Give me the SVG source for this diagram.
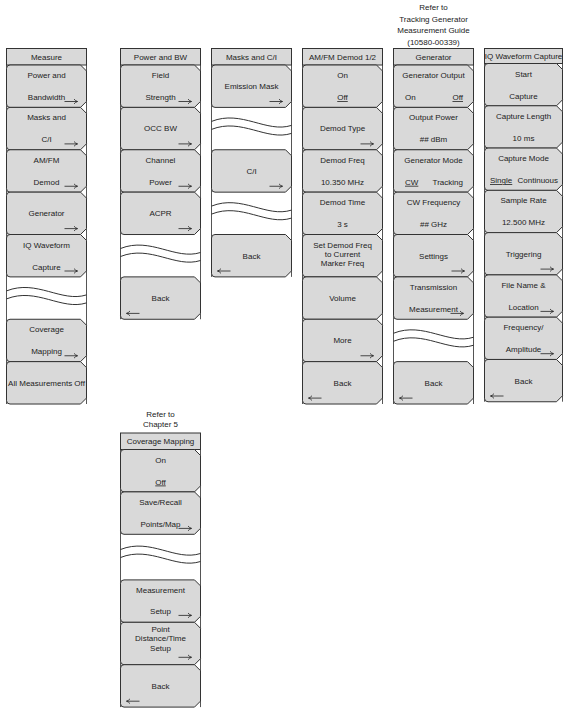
<svg xmlns="http://www.w3.org/2000/svg" xmlns:xlink="http://www.w3.org/1999/xlink" width="568" height="716" viewBox="0 0 568 716">
<style>
.bg{fill:#ffffff}
.btn{fill:#d9d9d9;stroke:#333333;stroke-width:1}
.hdr{fill:#d9d9d9;stroke:#333333;stroke-width:1}
.frm{stroke:#555555;stroke-width:1;fill:none}
.wv{stroke:#333333;stroke-width:1;fill:none}
.ar{stroke:#222222;stroke-width:0.8;fill:none}
text{font-family:"Liberation Sans",Arial,Helvetica,sans-serif;font-size:8px;fill:#222222;text-anchor:middle}
.s{text-anchor:start}
.e{text-anchor:end}
.u{text-decoration:underline}
</style>
<defs>
<path id="btn" d="M3.5,0 H74 L80,6 V36.4 L74,42.4 H3.5 Q0,42.4 0,38.9 V3.5 Q0,0 3.5,0 Z"/>
<path id="btn2" d="M3.5,0 H72 L78,6 V36.3 L72,42.3 H3.5 Q0,42.3 0,38.8 V3.5 Q0,0 3.5,0 Z"/>
<path id="wave" d="M0,0 C30,-12 55,12 80,4 M0,8 C30,-4 55,20 80,12"/>
<path id="arR" d="M0,0 H13 M9.5,-2.4 Q11,-0.6 13,0 Q11,0.6 9.5,2.4"/>
<path id="arL" d="M13,0 H0 M3.5,-2.4 Q2,-0.6 0,0 Q2,0.6 3.5,2.4"/>
</defs>
<rect class="bg" x="0" y="0" width="568" height="716"/>

<g id="notes">
<text x="433.5" y="10">Refer to</text>
<text x="433.5" y="21.5">Tracking Generator</text>
<text x="433.5" y="33">Measurement Guide</text>
<text x="433.5" y="44.5">(10580-00339)</text>
<text x="160.5" y="417">Refer to</text>
<text x="160.5" y="427">Chapter 5</text>
</g>

<g id="connectors"></g>

<!-- Measure -->
<g id="measure">
<path class="frm" d="M6.5,48.5 V404 M86.5,48.5 V404"/>
<rect class="hdr" x="6.5" y="48.5" width="80" height="16.5"/>
<text x="46.5" y="59.5">Measure</text>
<use href="#btn" class="btn" x="6.5" y="65"/>
<text x="46.5" y="78">Power and</text><text x="46.5" y="100">Bandwidth</text>
<use href="#arR" class="ar" x="64.5" y="101.5"/>
<use href="#btn" class="btn" x="6.5" y="107.375"/>
<text x="46.5" y="120.4">Masks and</text><text x="46.5" y="142.4">C/I</text>
<use href="#arR" class="ar" x="64.5" y="143.9"/>
<use href="#btn" class="btn" x="6.5" y="149.75"/>
<text x="46.5" y="162.75">AM/FM</text><text x="46.5" y="184.75">Demod</text>
<use href="#arR" class="ar" x="64.5" y="186.25"/>
<use href="#btn" class="btn" x="6.5" y="192.125"/>
<text x="46.5" y="216.1">Generator</text>
<use href="#arR" class="ar" x="64.5" y="228.6"/>
<use href="#btn" class="btn" x="6.5" y="234.5"/>
<text x="46.5" y="247.5">IQ Waveform</text><text x="46.5" y="269.5">Capture</text>
<use href="#arR" class="ar" x="64.5" y="271"/>
<use href="#wave" class="wv" x="6.5" y="290.9"/>
<use href="#btn" class="btn" x="6.5" y="319.25"/>
<text x="46.5" y="332.25">Coverage</text><text x="46.5" y="354.25">Mapping</text>
<use href="#arR" class="ar" x="64.5" y="355.75"/>
<use href="#btn" class="btn" x="6.5" y="361.625"/>
<text x="46.5" y="385.6">All Measurements Off</text>
</g>

<!-- Power and BW -->
<g id="power-bw">
<path class="frm" d="M120.5,48.5 V319.25 M200.5,48.5 V319.25"/>
<rect class="hdr" x="120.5" y="48.5" width="80" height="16.5"/>
<text x="160.5" y="59.5">Power and BW</text>
<use href="#btn" class="btn" x="120.5" y="65"/>
<text x="160.5" y="78">Field</text><text x="160.5" y="100">Strength</text>
<use href="#arR" class="ar" x="178.5" y="101.5"/>
<use href="#btn" class="btn" x="120.5" y="107.375"/>
<text x="160.5" y="131.4">OCC BW</text>
<use href="#arR" class="ar" x="178.5" y="143.9"/>
<use href="#btn" class="btn" x="120.5" y="149.75"/>
<text x="160.5" y="162.75">Channel</text><text x="160.5" y="184.75">Power</text>
<use href="#arR" class="ar" x="178.5" y="186.25"/>
<use href="#btn" class="btn" x="120.5" y="192.125"/>
<text x="160.5" y="216.1">ACPR</text>
<use href="#arR" class="ar" x="178.5" y="228.6"/>
<use href="#wave" class="wv" x="120.5" y="248.5"/>
<use href="#btn" class="btn" x="120.5" y="276.875"/>
<text x="160.5" y="300.9">Back</text>
<use href="#arL" class="ar" x="126.5" y="313.4"/>
</g>

<!-- Masks and C/I -->
<g id="masks-ci">
<path class="frm" d="M211.5,48.5 V276.875 M291.5,48.5 V276.875"/>
<rect class="hdr" x="211.5" y="48.5" width="80" height="16.5"/>
<text x="251.5" y="59.5">Masks and C/I</text>
<use href="#btn" class="btn" x="211.5" y="65"/>
<text x="251.5" y="89">Emission Mask</text>
<use href="#arR" class="ar" x="269.5" y="101.5"/>
<use href="#wave" class="wv" x="211.5" y="121.4"/>
<use href="#btn" class="btn" x="211.5" y="149.75"/>
<text x="251.5" y="173.75">C/I</text>
<use href="#arR" class="ar" x="269.5" y="186.25"/>
<use href="#wave" class="wv" x="211.5" y="206.1"/>
<use href="#btn" class="btn" x="211.5" y="234.5"/>
<text x="251.5" y="258.5">Back</text>
<use href="#arL" class="ar" x="217.5" y="271"/>
</g>

<!-- AM/FM Demod -->
<g id="amfm-demod">
<path class="frm" d="M302.5,48.5 V404 M382.5,48.5 V404"/>
<rect class="hdr" x="302.5" y="48.5" width="80" height="16.5"/>
<text x="342.5" y="59.5">AM/FM Demod 1/2</text>
<use href="#btn" class="btn" x="302.5" y="65"/>
<text x="342.5" y="78">On</text><text class="u" x="342.5" y="100">Off</text>
<use href="#btn" class="btn" x="302.5" y="107.375"/>
<text x="342.5" y="131.4">Demod Type</text>
<use href="#arR" class="ar" x="360.5" y="143.9"/>
<use href="#btn" class="btn" x="302.5" y="149.75"/>
<text x="342.5" y="162.75">Demod Freq</text><text x="342.5" y="184.75">10.350 MHz</text>
<use href="#btn" class="btn" x="302.5" y="192.125"/>
<text x="342.5" y="205.1">Demod Time</text><text x="342.5" y="227.1">3 s</text>
<use href="#btn" class="btn" x="302.5" y="234.5"/>
<text x="342.5" y="247.5">Set Demod Freq</text><text x="342.5" y="256.5">to Current</text><text x="342.5" y="265.5">Marker Freq</text>
<use href="#btn" class="btn" x="302.5" y="276.875"/>
<text x="342.5" y="300.9">Volume</text>
<use href="#btn" class="btn" x="302.5" y="319.25"/>
<text x="342.5" y="343.25">More</text>
<use href="#arR" class="ar" x="360.5" y="355.75"/>
<use href="#btn" class="btn" x="302.5" y="361.625"/>
<text x="342.5" y="385.6">Back</text>
<use href="#arL" class="ar" x="308.5" y="398.1"/>
</g>

<!-- Generator -->
<g id="generator">
<path class="frm" d="M393.5,48.5 V404 M473.5,48.5 V404"/>
<rect class="hdr" x="393.5" y="48.5" width="80" height="16.5"/>
<text x="433.5" y="59.5">Generator</text>
<use href="#btn" class="btn" x="393.5" y="65"/>
<text x="433.5" y="78">Generator Output</text>
<text class="s" x="405" y="100">On</text><text class="e u" x="463" y="100">Off</text>
<use href="#btn" class="btn" x="393.5" y="107.375"/>
<text x="433.5" y="120.4">Output Power</text><text x="433.5" y="142.4">## dBm</text>
<use href="#btn" class="btn" x="393.5" y="149.75"/>
<text x="433.5" y="162.75">Generator Mode</text>
<text class="s u" x="405" y="184.75">CW</text><text class="e" x="463" y="184.75">Tracking</text>
<use href="#btn" class="btn" x="393.5" y="192.125"/>
<text x="433.5" y="205.1">CW Frequency</text><text x="433.5" y="227.1">## GHz</text>
<use href="#btn" class="btn" x="393.5" y="234.5"/>
<text x="433.5" y="258.5">Settings</text>
<use href="#arR" class="ar" x="451.5" y="271"/>
<use href="#btn" class="btn" x="393.5" y="276.875"/>
<text x="433.5" y="289.9">Transmission</text><text x="433.5" y="311.9">Measurement</text>
<use href="#arR" class="ar" x="450.5" y="313.4"/>
<use href="#wave" class="wv" x="393.5" y="333.25"/>
<use href="#btn" class="btn" x="393.5" y="361.625"/>
<text x="433.5" y="385.6">Back</text>
<use href="#arL" class="ar" x="399.5" y="398.1"/>
</g>

<!-- IQ Waveform Capture -->
<g id="iq-waveform-capture">
<path class="frm" d="M484.5,48.5 V401.7 M562.5,48.5 V401.7"/>
<rect class="hdr" x="484.5" y="48.5" width="78" height="15"/>
<text x="523.5" y="58.8">IQ Waveform Capture</text>
<use href="#btn2" class="btn" x="484.5" y="63.5"/>
<text x="523.5" y="76.5">Start</text><text x="523.5" y="98.5">Capture</text>
<use href="#btn2" class="btn" x="484.5" y="105.78"/>
<text x="523.5" y="118.8">Capture Length</text><text x="523.5" y="140.8">10 ms</text>
<use href="#btn2" class="btn" x="484.5" y="148.06"/>
<text x="523.5" y="161.1">Capture Mode</text>
<text class="s u" x="490" y="183.1">Single</text><text class="e" x="558" y="183.1">Continuous</text>
<use href="#btn2" class="btn" x="484.5" y="190.34"/>
<text x="523.5" y="203.3">Sample Rate</text><text x="523.5" y="225.3">12.500 MHz</text>
<use href="#btn2" class="btn" x="484.5" y="232.62"/>
<text x="523.5" y="256.6">Triggering</text>
<use href="#arR" class="ar" x="540.5" y="269.1"/>
<use href="#btn2" class="btn" x="484.5" y="274.9"/>
<text x="523.5" y="287.9">File Name &amp;</text><text x="523.5" y="309.9">Location</text>
<use href="#arR" class="ar" x="540.5" y="311.4"/>
<use href="#btn2" class="btn" x="484.5" y="317.18"/>
<text x="523.5" y="330.2">Frequency/</text><text x="523.5" y="352.2">Amplitude</text>
<use href="#arR" class="ar" x="540.5" y="353.7"/>
<use href="#btn2" class="btn" x="484.5" y="359.46"/>
<text x="523.5" y="383.5">Back</text>
<use href="#arL" class="ar" x="490.5" y="396"/>
</g>

<!-- Coverage Mapping -->
<g id="coverage-mapping">
<path class="frm" d="M120.5,433 V707.1 M200.5,433 V707.1"/>
<rect class="hdr" x="120.5" y="433" width="80" height="16.5"/>
<text x="160.5" y="444">Coverage Mapping</text>
<use href="#btn" class="btn" x="120.5" y="449.5"/>
<text x="160.5" y="462.5">On</text><text class="u" x="160.5" y="484.5">Off</text>
<use href="#btn" class="btn" x="120.5" y="491.9"/>
<text x="160.5" y="504.9">Save/Recall</text><text x="160.5" y="526.9">Points/Map</text>
<use href="#arR" class="ar" x="178.5" y="528.4"/>
<use href="#wave" class="wv" x="120.5" y="549.5"/>
<use href="#btn" class="btn" x="120.5" y="579.9"/>
<text x="160.5" y="592.9">Measurement</text><text x="160.5" y="614">Setup</text>
<use href="#arR" class="ar" x="178.5" y="615.4"/>
<use href="#btn" class="btn" x="120.5" y="622.3"/>
<text x="160.5" y="632.3">Point</text><text x="160.5" y="641.3">Distance/Time</text><text x="160.5" y="651.3">Setup</text>
<use href="#arR" class="ar" x="178.5" y="657.3"/>
<use href="#btn" class="btn" x="120.5" y="664.7"/>
<text x="160.5" y="688.7">Back</text>
<use href="#arL" class="ar" x="126.5" y="701.2"/>
</g>
</svg>
